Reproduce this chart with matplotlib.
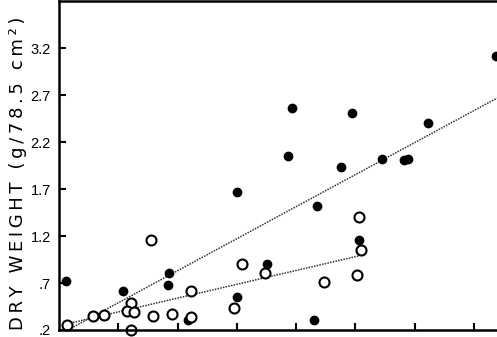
import matplotlib
matplotlib.use("Agg")
import matplotlib.pyplot as plt

# filled dots
filled_x = [0.12, 1.08, 1.855, 1.84, 2.18, 4.35, 5.06, 3.51, 3.0, 4.30,
            3.93, 4.94, 3.86, 4.76, 3.0, 7.37, 6.22, 5.45, 5.82, 5.89]
filled_y = [0.72, 0.62, 0.81, 0.68, 0.31, 1.525, 1.16, 0.905, 0.55, 0.31,
            2.56, 2.51, 2.05, 1.94, 1.67, 3.12, 2.41, 2.02, 2.01, 2.02]

# open circles
open_x = [0.135, 0.57, 0.76, 1.21, 1.15, 1.26, 1.21, 1.55, 1.585, 1.905,
          2.23, 2.23, 3.09, 3.47, 2.95, 4.47, 5.03, 5.06, 5.09]
open_y = [0.25, 0.35, 0.36, 0.49, 0.40, 0.39, 0.20, 1.16, 0.35, 0.37,
          0.62, 0.34, 0.905, 0.81, 0.435, 0.71, 0.79, 1.40, 1.055]

# fitted lines (end points)
fit_filled_x = [0.12, 7.39]
fit_filled_y = [0.19, 2.67]
fit_open_x = [0.10, 5.06]
fit_open_y = [0.26, 0.99]

yticks = [0.2, 0.7, 1.2, 1.7, 2.2, 2.7, 3.2]
ytick_labels = [".2", ".7", "1.2", "1.7", "2.2", "2.7", "3.2"]
xticks = [1, 2, 3, 4, 5, 6, 7]

fig = plt.figure(figsize=(4.97, 3.37), dpi=100)
ax = fig.add_axes([0.1187, 0.0208, 0.8813, 0.975])

ax.plot(fit_filled_x, fit_filled_y, ls=(0, (1, 0.8)), color="#333333", lw=1.1)
ax.plot(fit_open_x, fit_open_y, ls=(0, (1, 0.8)), color="#333333", lw=1.1)

ax.plot(filled_x, filled_y, "o", color="black", ms=6, clip_on=False)
ax.plot(open_x, open_y, "o", mfc="white", mec="black", mew=1.5, ms=7.2,
        clip_on=False)

ax.set_xlim(0, 7.39)
ax.set_ylim(0.2, 3.7)
ax.set_xticks(xticks)
ax.set_xticklabels([])
ax.set_yticks(yticks)
ax.set_yticklabels(ytick_labels, family="Liberation Sans", fontsize=10.5)
ax.tick_params(direction="in", length=5, width=1.5, pad=6)

ax.spines["right"].set_visible(False)
for s in ["left", "top", "bottom"]:
    ax.spines[s].set_linewidth(1.8)

label = "\u2009".join("DRY WEIGHT (g/78.5 cm²)")
fig.text(18 / 497, 0.487, label, rotation=90, ha="center", va="center",
         fontsize=13, family="DejaVu Sans")

fig.savefig("out.png", dpi=100)
